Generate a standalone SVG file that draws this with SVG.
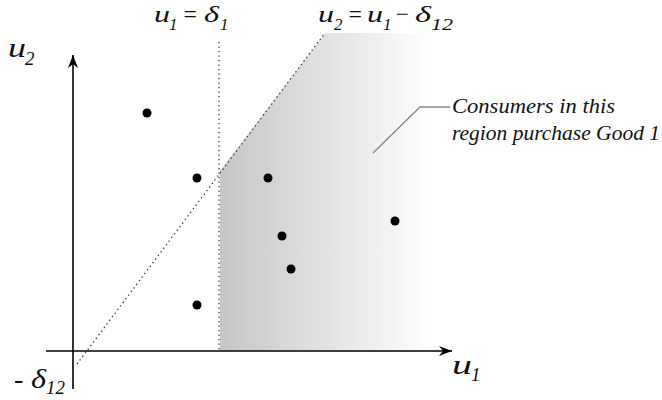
<svg xmlns="http://www.w3.org/2000/svg" width="662" height="400" viewBox="0 0 662 400">
<style>
text{font-family:"Liberation Serif","DejaVu Serif",serif;font-style:italic;fill:#111}
.lbl{font-size:24px}
.sub{font-size:17px}
.ax{font-size:28px}
.axsub{font-size:19px}
.note{font-size:21px}
.dot{fill:#000}
.axis{stroke:#000;stroke-width:1.6;fill:none}
.dotted{stroke:#333;stroke-width:1.3;stroke-dasharray:1.3 3.2;fill:none}
</style>
<defs>
<linearGradient id="g" x1="220" y1="0" x2="432" y2="0" gradientUnits="userSpaceOnUse">
<stop offset="0" stop-color="#c6c6c6"/>
<stop offset="0.5" stop-color="#e2e2e2"/>
<stop offset="1" stop-color="#ffffff"/>
</linearGradient>
<marker id="arr" markerWidth="14" markerHeight="10" refX="13" refY="5" orient="auto" markerUnits="userSpaceOnUse">
<path d="M0,0 L13,5 L0,10 L4,5 Z" fill="#000"/>
</marker>
</defs>
<g id="region">
<polygon points="220,351 220,171 325,33 432,33 432,351" fill="url(#g)"/>
</g>
<g id="connectors">
<line class="axis" x1="46" y1="351" x2="452" y2="351" marker-end="url(#arr)"/>
<line class="axis" x1="73" y1="389" x2="73" y2="55" marker-end="url(#arr)"/>
<line class="dotted" x1="219" y1="42" x2="219" y2="351"/>
<line class="dotted" x1="77" y1="364" x2="325" y2="33"/>
<polyline points="373,153 420,107 450,107" fill="none" stroke="#888" stroke-width="1.3"/>
</g>
<g id="points">
<circle class="dot" cx="147" cy="113" r="4.5"/>
<circle class="dot" cx="197" cy="178" r="4.5"/>
<circle class="dot" cx="268" cy="178" r="4.5"/>
<circle class="dot" cx="282" cy="236" r="4.5"/>
<circle class="dot" cx="291" cy="269" r="4.5"/>
<circle class="dot" cx="395" cy="221" r="4.5"/>
<circle class="dot" cx="197" cy="305" r="4.5"/>
</g>
<g id="labels">
<text class="lbl" x="154" y="22" textLength="16" lengthAdjust="spacingAndGlyphs">u</text><text class="sub" x="169" y="30">1</text>
<text class="lbl" x="182" y="22" textLength="16" lengthAdjust="spacingAndGlyphs">=</text><text class="lbl" x="204" y="22" textLength="15" lengthAdjust="spacingAndGlyphs">δ</text><text class="sub" x="220" y="30">1</text>
<text class="lbl" x="318" y="22" textLength="16" lengthAdjust="spacingAndGlyphs">u</text><text class="sub" x="334" y="30">2</text>
<text class="lbl" x="347" y="22" textLength="16" lengthAdjust="spacingAndGlyphs">=</text><text class="lbl" x="367" y="22" textLength="16" lengthAdjust="spacingAndGlyphs">u</text><text class="sub" x="383" y="30">1</text>
<text class="lbl" x="394" y="22" textLength="16" lengthAdjust="spacingAndGlyphs">−</text><text class="lbl" x="415" y="22" textLength="16" lengthAdjust="spacingAndGlyphs">δ</text><text class="sub" x="431" y="30" textLength="22" lengthAdjust="spacingAndGlyphs">12</text>
<text class="ax" x="8" y="57" textLength="18" lengthAdjust="spacingAndGlyphs">u</text><text class="axsub" x="25" y="65">2</text>
<text class="ax" x="452" y="374" textLength="20" lengthAdjust="spacingAndGlyphs">u</text><text class="axsub" x="471" y="381">1</text>
<text class="ax" x="14" y="388">-</text><text class="ax" x="31" y="388" textLength="15" lengthAdjust="spacingAndGlyphs">δ</text><text class="axsub" x="46" y="394" textLength="19" lengthAdjust="spacingAndGlyphs">12</text>
<text class="note" x="452" y="113" textLength="163" lengthAdjust="spacingAndGlyphs">Consumers in this</text>
<text class="note" x="452" y="140" textLength="208" lengthAdjust="spacingAndGlyphs">region purchase Good 1</text>
</g>
</svg>
